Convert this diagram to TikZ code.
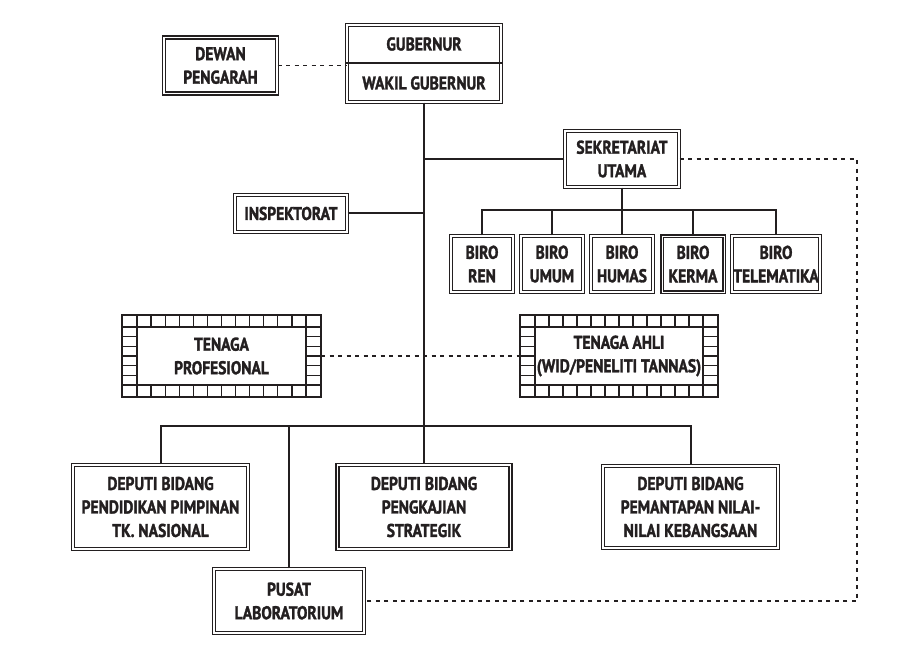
\documentclass[tikz,border=0pt]{standalone}
\usepackage{fontspec}
\newfontfamily\orgfont{PT Sans}[FakeStretch=0.84,FakeBold=1.6,UprightFont={* Bold},BoldFont={* Bold}]
\definecolor{ink}{HTML}{231F20}
\newcommand\brickframe[4]{%
  \draw[brick] (#1,#2) rectangle (#3,#4);
  \draw[brick] (#1+15,#2+12) rectangle (#3-15,#4-12);
  \pgfmathsetmacro\bw{(#3-#1-30)/12}%
  \foreach \k in {0,...,12} {
    \draw[brick] (#1+15+\k*\bw,#2) -- ++(0,12);
    \draw[brick] (#1+15+\k*\bw,#4) -- ++(0,-12);
  }
  \pgfmathsetmacro\bh{(#4-#2-24)/6}%
  \foreach \k in {0,...,6} {
    \draw[brick] (#1,#2+12+\k*\bh) -- ++(15,0);
    \draw[brick] (#3,#2+12+\k*\bh) -- ++(-15,0);
  }
}
\begin{document}
\begin{tikzpicture}[x=1pt,y=-1pt,
  every node/.style={font=\orgfont\fontsize{18.5}{23.5}\selectfont, text=ink, align=center, inner sep=0pt},
  box/.style={draw=ink, double=white, double distance=1.6pt, line width=1.3pt, rectangle},
  thickbox/.style={draw=ink, double=white, double distance=0.8pt, line width=1.9pt, rectangle},
  brick/.style={draw=ink, line width=1.2pt},
  conn/.style={draw=ink, line width=2pt},
  dots/.style={draw=ink, line width=1.6pt, dash pattern=on 4pt off 4.5pt}]
\useasboundingbox[fill=white] (0,0) rectangle (919,650);

% Top
\node[box, minimum width=154, minimum height=77] (gub) at (424,63.5) {};
\node (gubt) at (424,44) {GUBERNUR};
\node (wakil) at (424,83) {WAKIL GUBERNUR};
\draw[draw=ink, line width=1.6pt] (gub.west |- 0,63) -- (gub.east |- 0,63);
\node[box, minimum width=113, minimum height=56] (dewan) at (220.5,65.5) {DEWAN\\PENGARAH};

% Sekretariat
\node[box, minimum width=114, minimum height=56] (sek) at (622,159) {SEKRETARIAT\\UTAMA};
\node[box, minimum width=62, minimum height=56] (ren) at (482,264) {BIRO\\REN};
\node[box, minimum width=62, minimum height=56] (umum) at (552,264) {BIRO\\UMUM};
\node[box, minimum width=62, minimum height=56] (humas) at (622,264) {BIRO\\HUMAS};
\node[thickbox, minimum width=62, minimum height=56] (kerma) at (693,264) {BIRO\\KERMA};
\node[box, minimum width=88, minimum height=56] (tele) at (776,264) {BIRO\\TELEMATIKA};

\node[box, minimum width=112, minimum height=37] (insp) at (291,213.5) {INSPEKTORAT};

% Tenaga
\brickframe{122}{315}{321}{397}
\brickframe{520}{315}{718}{397}
\node[minimum width=199, minimum height=82] (tp) at (221.5,356) {TENAGA\\PROFESIONAL};
\node[minimum width=198, minimum height=82] (ta) at (619,356) {TENAGA AHLI\\(WID/PENELITI TANNAS)};

% Deputi
\node[box, minimum width=175, minimum height=84] (d1) at (160.5,507) {DEPUTI BIDANG\\PENDIDIKAN PIMPINAN\\TK. NASIONAL};
\node[box, minimum width=173, minimum height=84] (d2) at (424,507) {DEPUTI BIDANG\\PENGKAJIAN\\STRATEGIK};
\node[box, minimum width=175, minimum height=82] (d3) at (690.5,507) {DEPUTI BIDANG\\PEMANTAPAN NILAI-\\NILAI KEBANGSAAN};
\node[box, minimum width=150, minimum height=64] (lab) at (289,601) {PUSAT\\LABORATORIUM};

% Connectors
\coordinate (bus) at (0,425.5);
\coordinate (bbus) at (0,210);
\coordinate (rt) at (857,0);
\draw[conn] (gub.south) -- (gub.south |- d2.north);
\draw[conn] (sek.west) -- (sek.west -| gub.south);
\draw[conn] (insp.east) -- (insp.east -| gub.south);
\draw[conn] (sek.south) -- (humas.north);
\draw[conn] (ren.north) |- (tele.north |- bbus) -- (tele.north);
\draw[conn] (umum.north) -- (umum.north |- bbus);
\draw[conn] (kerma.north) -- (kerma.north |- bbus);
\draw[conn] (d1.north) |- (d3.north |- bus) -- (d3.north);
\draw[conn] (lab.north) -- (lab.north |- bus);

\draw[dots] (dewan.east) -- (dewan.east -| gub.west);
\draw[dots] (tp.east) -- (ta.west);
\draw[dots] (sek.east) -- (sek.east -| rt) -- (lab.east -| rt) -- (lab.east);
\end{tikzpicture}
\end{document}
